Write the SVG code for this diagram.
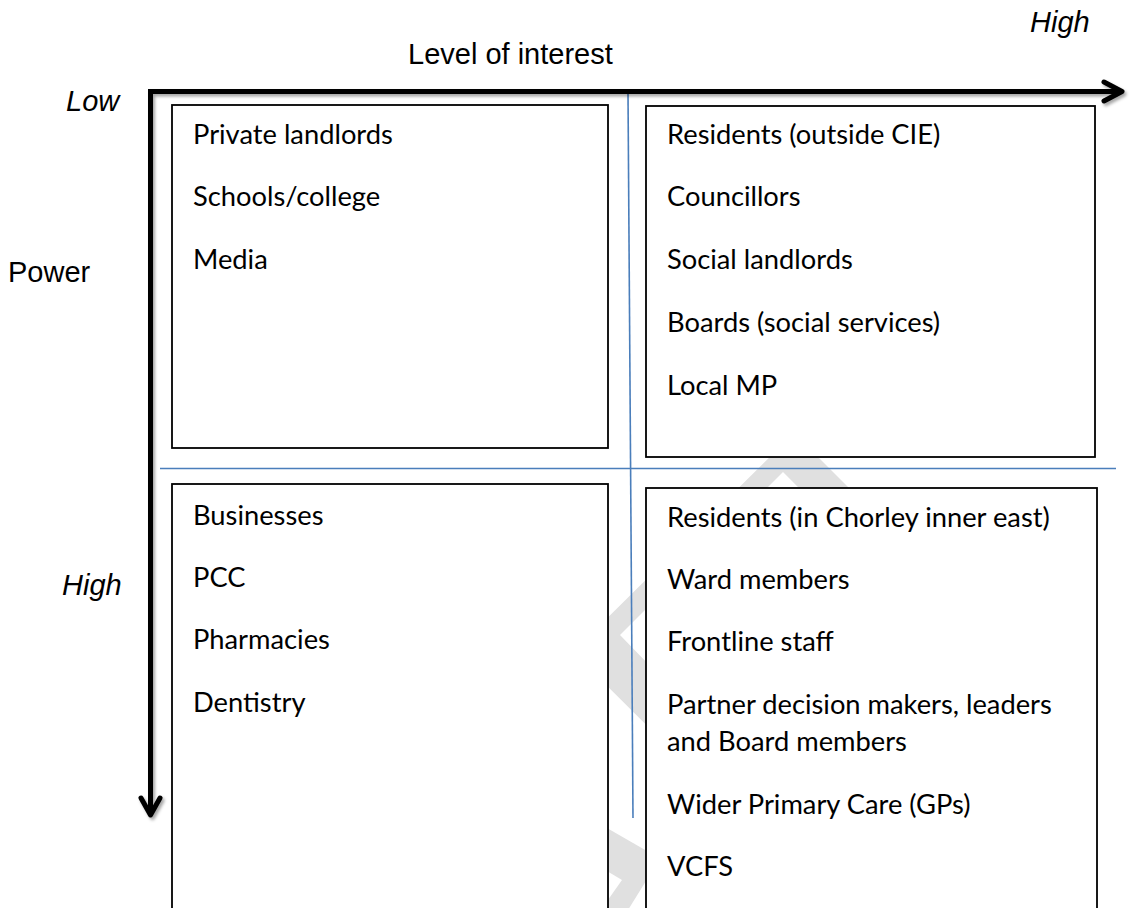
<svg xmlns="http://www.w3.org/2000/svg" width="1129" height="908" viewBox="0 0 1129 908">
  <style>
    .axis { font-family: "Liberation Sans", Arial, sans-serif; font-size: 29px; fill: #000; }
    .axis-i { font-style: italic; }
    .item { font-family: Lato, "Open Sans", sans-serif; font-size: 27.3px; fill: #000; }
    .box { fill: #fff; stroke: #000; stroke-width: 1.8; }
    .guide { stroke: #4a7ebb; stroke-width: 1.6; fill: none; }
    .mark { fill: #e0e0e0; }
    .arrow { fill: none; stroke: #000; stroke-width: 5; }
  </style>
  <defs>
    <filter id="shadow" x="-5%" y="-5%" width="110%" height="110%">
      <feDropShadow dx="2" dy="2.5" stdDeviation="1.6" flood-color="#000" flood-opacity="0.35"/>
    </filter>
  </defs>

  <rect width="1129" height="908" fill="#fff"/>

  <!-- faint background watermark -->
  <g id="watermark">
    <path class="mark" fill-rule="evenodd" d="M794 433 L1000 639 L790 868 L573 652 Z M783 472 L620 635 L790 810 L950 640 Z"/>
    <polygon class="mark" points="560,801 680,870 646,881 628,910 600,910 610,897 622,880 560,843"/>
  </g>

  <!-- quadrant boxes -->
  <g id="quadrant-low-power-low-interest">
    <rect class="box" x="172" y="105" width="436" height="343"/>
    <text class="item" x="193" y="144">Private landlords</text>
    <text class="item" x="193" y="206">Schools/college</text>
    <text class="item" x="193" y="269">Media</text>
  </g>

  <g id="quadrant-low-power-high-interest">
    <rect class="box" x="646" y="106" width="449" height="351"/>
    <text class="item" x="667" y="144">Residents (outside CIE)</text>
    <text class="item" x="667" y="206">Councillors</text>
    <text class="item" x="667" y="269">Social landlords</text>
    <text class="item" x="667" y="332">Boards (social services)</text>
    <text class="item" x="667" y="395">Local MP</text>
  </g>

  <g id="quadrant-high-power-low-interest">
    <rect class="box" x="172" y="484" width="436" height="440"/>
    <text class="item" x="193" y="525">Businesses</text>
    <text class="item" x="193" y="587">PCC</text>
    <text class="item" x="193" y="649">Pharmacies</text>
    <text class="item" x="193" y="712">Dentistry</text>
  </g>

  <g id="quadrant-high-power-high-interest">
    <rect class="box" x="646" y="488" width="451" height="440"/>
    <text class="item" x="667" y="527">Residents (in Chorley inner east)</text>
    <text class="item" x="667" y="589">Ward members</text>
    <text class="item" x="667" y="651">Frontline staff</text>
    <text class="item" x="667" y="714">Partner decision makers, leaders</text>
    <text class="item" x="667" y="751">and Board members</text>
    <text class="item" x="667" y="814">Wider Primary Care (GPs)</text>
    <text class="item" x="667" y="876">VCFS</text>
  </g>

  <!-- connectors: quadrant dividers and the two axes -->
  <g id="connectors">
    <line class="guide" x1="628" y1="93" x2="633" y2="818"/>
    <line class="guide" x1="160" y1="468.5" x2="1116" y2="468.5"/>
    <g filter="url(#shadow)">
      <path class="arrow" stroke-linejoin="miter" d="M150.5 815 V91.5 H1121"/>
      <polyline class="arrow" stroke-linecap="round" stroke-linejoin="round" points="1104,82 1122,91.5 1104,101"/>
      <polyline class="arrow" stroke-linecap="round" stroke-linejoin="round" points="141,798 150.5,815 160,798"/>
    </g>
  </g>

  <!-- axis labels -->
  <g id="axis-labels">
    <text class="axis" x="408" y="64">Level of interest</text>
    <text class="axis axis-i" x="1030" y="32">High</text>
    <text class="axis axis-i" x="66" y="111">Low</text>
    <text class="axis" x="8" y="282">Power</text>
    <text class="axis axis-i" x="62" y="595">High</text>
  </g>
</svg>
